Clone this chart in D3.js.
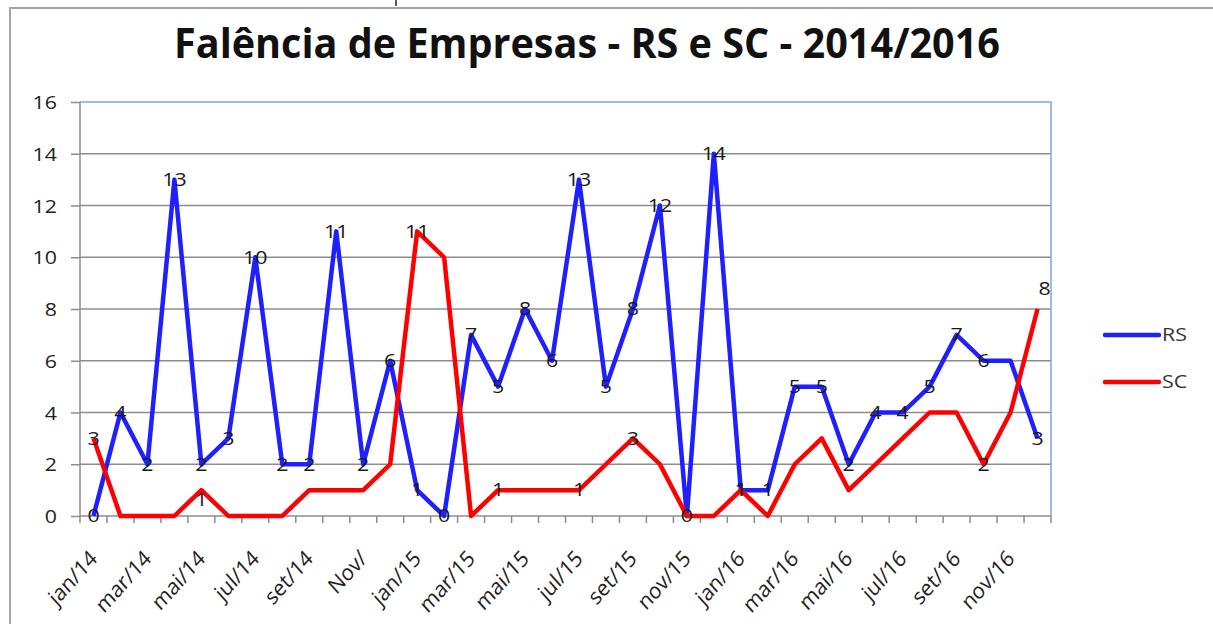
<!DOCTYPE html>
<html><head><meta charset="utf-8">
<script src="https://cdn.jsdelivr.net/npm/d3@7"></script>
<style>html,body{margin:0;padding:0;background:#fff;}svg{display:block;}</style>
</head><body>
<svg id="c" width="1213" height="624"></svg>
<script>
const months = ["jan/14","fev/14","mar/14","abr/14","mai/14","jun/14","jul/14","ago/14","set/14","out/14","Nov/","dez/14",
"jan/15","fev/15","mar/15","abr/15","mai/15","jun/15","jul/15","ago/15","set/15","out/15","nov/15","dez/15",
"jan/16","fev/16","mar/16","abr/16","mai/16","jun/16","jul/16","ago/16","set/16","out/16","nov/16","dez/16"];
const rs = [0,4,2,13,2,3,10,2,2,11,2,6, 1,0,7,5,8,6,13,5,8,12,0,14, 1,1,5,5,2,4,4,5,7,6,6,3];
const sc = [3,0,0,0,1,0,0,0,1,1,1,2, 11,10,0,1,1,1,1,2,3,2,0,0, 1,0,2,3,1,2,3,4,4,2,4,8];
const rsLabelIdx = d3.range(36).filter(i => i !== 34);
const scLabelIdx = [0,4,12,15,18,20,24,33,35];
const yTicks = [0,2,4,6,8,10,12,14,16];
const seriesNames = ["RS","SC"];
const title = "Falência de Empresas - RS e SC - 2014/2016";

const svg = d3.select("#c");
const font = "'Open Sans', 'DejaVu Sans', sans-serif";
const SX = 1.22;   // horizontal stretch of text as seen in the reference
const L = 80, R = 1051, T = 102, B = 516;

// outer frame
svg.append("path").attr("d","M10,624 V8 H1213").attr("fill","none").attr("stroke","#a6a6a6").attr("stroke-width",2);
svg.append("line").attr("x1",396).attr("x2",396).attr("y1",0).attr("y2",6).attr("stroke","#222").attr("stroke-width",1.5);

const x = d3.scaleBand().domain(months).range([L,R]);
const y = d3.scaleLinear().domain([0,16]).range([B,T]);
const cx = m => x(m) + x.bandwidth()/2;

// gridlines
svg.append("g").selectAll("line").data(yTicks.filter(v=>v>0 && v<16)).join("line")
  .attr("x1",L).attr("x2",R).attr("y1",d=>y(d)).attr("y2",d=>y(d))
  .attr("stroke","#8c8c8c").attr("stroke-width",1.5);
// plot border (blue top/right)
svg.append("path").attr("d",`M${L},${T} H${R} V${B}`).attr("fill","none").attr("stroke","#7ea6d8").attr("stroke-width",1.5);

// y axis
const ya = svg.append("g").attr("transform",`translate(${L},0)`).call(d3.axisLeft(y).tickValues(yTicks).tickSize(9).tickPadding(0));
ya.select(".domain").attr("stroke","#8c8c8c").attr("stroke-width",1.5).attr("d",`M0,${T}V${B}`);
ya.selectAll(".tick line").attr("stroke","#8c8c8c").attr("stroke-width",1.5);
ya.selectAll(".tick text").attr("x",null).attr("dy",null).attr("transform",`translate(-23,0) scale(${SX},1)`)
  .attr("dominant-baseline","central")
  .attr("font-family",font).attr("font-size",17.5).attr("fill","#222");

// x axis
const xa = svg.append("g").attr("transform",`translate(0,${B})`)
  .call(d3.axisBottom(x).tickValues([]).tickSize(0));
xa.select(".domain").attr("stroke","#8c8c8c").attr("stroke-width",1.5).attr("d",`M${L},0H${R}`);
const bounds = months.map(m => x(m)).concat([R]);
xa.append("g").selectAll("line").data(bounds).join("line")
  .attr("x1",d=>d).attr("x2",d=>d).attr("y1",0).attr("y2",7).attr("stroke","#8c8c8c").attr("stroke-width",1.5);
xa.append("g").selectAll("text").data(months.filter((m,i)=>i%2===0)).join("text")
  .attr("transform",d=>`translate(${cx(d)+5},${44}) scale(1.06,1.18) rotate(-45)`)
  .attr("text-anchor","end").attr("font-family",font).attr("font-size",19).attr("fill","#222")
  .text(d=>d);

// lines
const line = d3.line().x((d,i)=>cx(months[i])).y(d=>y(d));
svg.append("path").datum(rs).attr("d",line).attr("fill","none").attr("stroke","#1f1fff").attr("stroke-width",4.5).attr("stroke-linejoin","round");
svg.append("path").datum(sc).attr("d",line).attr("fill","none").attr("stroke","#ff0000").attr("stroke-width",4.5).attr("stroke-linejoin","round");

// labels
const lab = svg.append("g").attr("font-family",font).attr("font-size",17.5).attr("fill","#1a1a1a").attr("text-anchor","middle");
lab.selectAll("text.rs").data(rsLabelIdx).join("text").attr("class","rs")
  .attr("transform",i=>`translate(${cx(months[i])},${y(rs[i])}) scale(${SX},1)`)
  .attr("dy","0.36em").text(i=>rs[i]);
lab.selectAll("text.sc").data(scLabelIdx).join("text").attr("class","sc")
  .attr("transform",i=>{
    const px = i===35 ? cx(months[i])+7 : cx(months[i]);
    const py = i===35 ? y(sc[i])-20 : (i===4 ? y(sc[i])+10 : y(sc[i]));
    return `translate(${px},${py}) scale(${SX},1)`;
  })
  .attr("dy","0.36em").text(i=>sc[i]);

// legend
const colors = ["#1f1fff","#ff0000"];
const lg = svg.append("g");
seriesNames.forEach((n,k)=>{
  const yy = 335 + k*47;
  lg.append("line").attr("x1",1105).attr("x2",1159).attr("y1",yy).attr("y2",yy).attr("stroke",colors[k]).attr("stroke-width",4.5).attr("stroke-linecap","round");
  lg.append("text").attr("transform",`translate(1162,${yy}) scale(${SX},1)`).attr("dy","0.36em")
    .attr("font-family",font).attr("font-size",17.5).attr("fill","#333").text(n);
});

// title
svg.append("text").attr("x",174).attr("y",58).attr("font-family",font).attr("font-weight","bold")
  .attr("font-size",41).attr("fill","#111").attr("textLength",826).attr("lengthAdjust","spacingAndGlyphs").text(title);
</script>
</body></html>
